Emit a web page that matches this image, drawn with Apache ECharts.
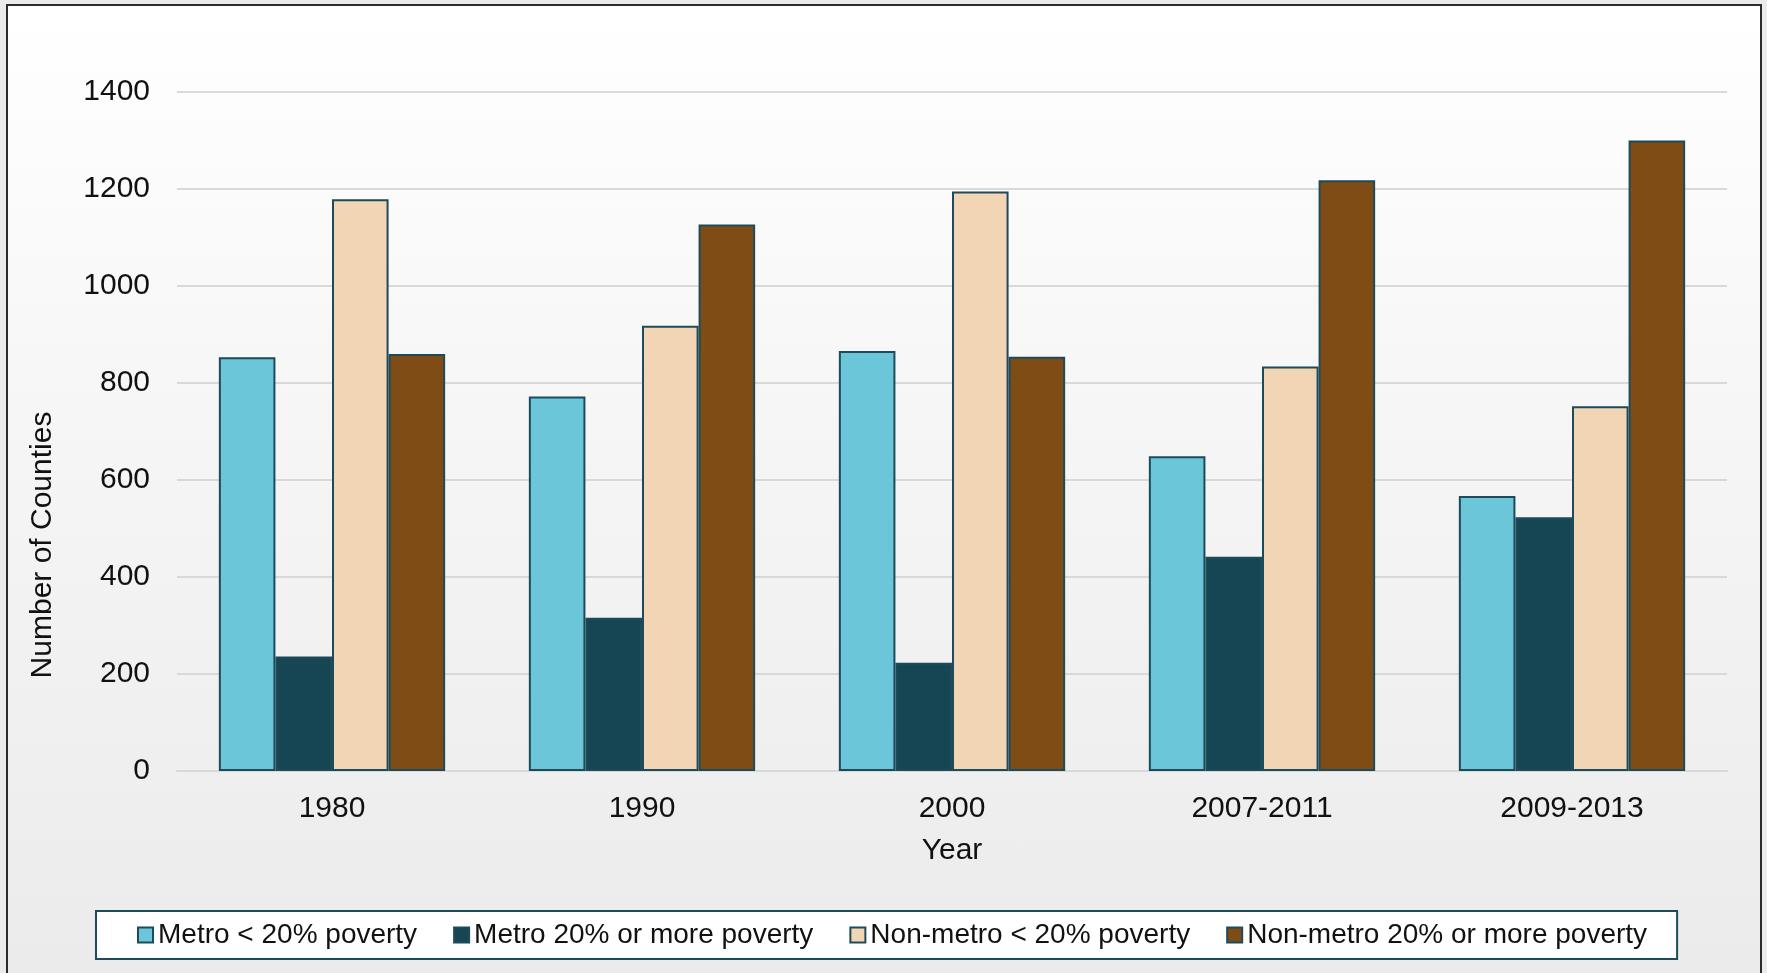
<!DOCTYPE html>
<html>
<head>
<meta charset="utf-8">
<script src="https://cdn.jsdelivr.net/npm/echarts@6/dist/echarts.min.js"></script>
<style>
  html, body { margin: 0; padding: 0; width: 1767px; height: 973px; overflow: hidden; background: #ebebeb; }
  #frame {
    position: absolute; left: 6px; top: 4px; width: 1752px; height: 1100px;
    border: 2px solid #2b2b2b; border-bottom: none;
    background: linear-gradient(to bottom, #ffffff 0px, #f4f4f4 500px, #ebebeb 969px);
  }
  #chart { position: absolute; left: 0; top: 0; width: 1767px; height: 973px; }
</style>
</head>
<body>
<div id="frame"></div>
<div id="chart"></div>
<script>
  // 数据
  var years = ['1980', '1990', '2000', '2007-2011', '2009-2013'];
  var seriesNames = ['Metro < 20% poverty', 'Metro 20% or more poverty', 'Non-metro < 20% poverty', 'Non-metro 20% or more poverty'];
  var metroLow = [853, 772, 866, 649, 567];
  var metroHigh = [236, 316, 223, 442, 523];
  var nonMetroLow = [1179, 918, 1195, 834, 752];
  var nonMetroHigh = [860, 1127, 854, 1218, 1300];
  var colors = ['#6cc6d9', '#164553', '#f2d5b4', '#7f4c15'];

  var font = "'Liberation Sans', Arial, sans-serif";
  var allValues = [metroLow, metroHigh, nonMetroLow, nonMetroHigh];

  var chart = echarts.init(document.getElementById('chart'));

  var option = {
    animation: false,
    textStyle: { fontFamily: font },
    grid: { left: 177, right: 40, top: 92, bottom: 202 },
    legend: {
      left: 96,
      top: 911,
      padding: [10, 30, 10, 41],
      icon: 'rect',
      itemWidth: 15,
      itemHeight: 15,
      itemGap: 36,
      backgroundColor: '#ffffff',
      borderColor: '#1d4b5a',
      borderWidth: 2,
      borderRadius: 0,
      textStyle: { fontSize: 28, color: '#111', fontFamily: font },
      data: seriesNames
    },
    graphic: [{
      type: 'text',
      x: 43,
      y: 545,
      rotation: Math.PI / 2,
      style: {
        text: 'Number of Counties',
        font: '30px ' + font,
        fill: '#111',
        textAlign: 'center',
        textVerticalAlign: 'middle'
      }
    }],
    xAxis: {
      type: 'category',
      data: years,
      name: 'Year',
      nameLocation: 'middle',
      nameGap: 65,
      nameTextStyle: { fontSize: 30, color: '#111', fontFamily: font },
      axisLine: { lineStyle: { color: '#d9d9d9', width: 2 } },
      axisTick: { show: false },
      axisLabel: { fontSize: 30, color: '#111', margin: 23, fontFamily: font }
    },
    yAxis: {
      type: 'value',
      min: 0,
      max: 1400,
      interval: 200,
      axisLine: { show: false },
      axisTick: { show: false },
      axisLabel: {
        fontSize: 30, color: '#111', margin: 27, fontFamily: font,
        formatter: function (v) { return String(v); }
      },
      splitLine: { lineStyle: { color: '#d9d9d9', width: 2 } }
    },
    series: seriesNames.map(function (name, i) {
      return {
        name: name,
        type: 'bar',
        data: allValues[i],
        barGap: '0%',
        barCategoryGap: '27%',
        itemStyle: { color: colors[i], borderColor: '#1d4b5a', borderWidth: 2 }
      };
    })
  };

  chart.setOption(option);
</script>
</body>
</html>
